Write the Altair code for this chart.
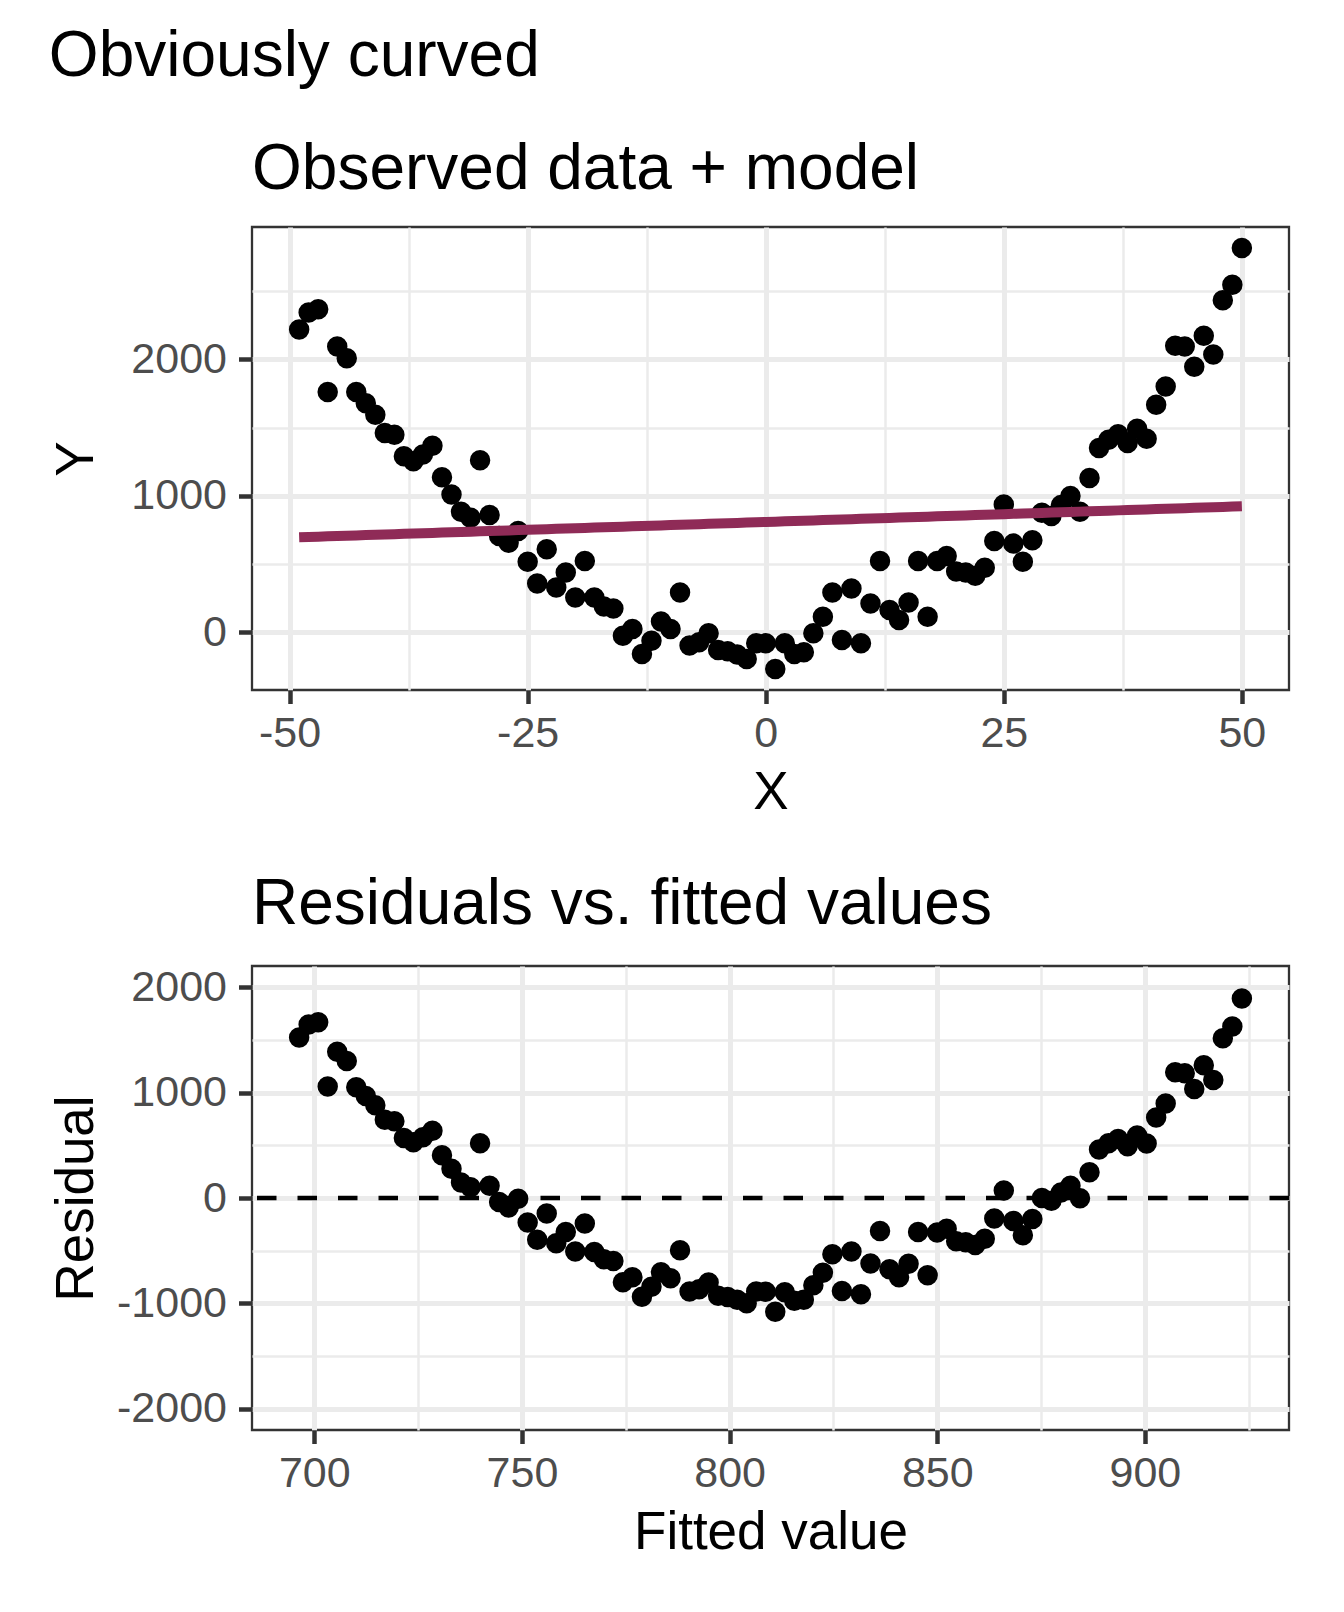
import altair as alt
import numpy as np
import pandas as pd

# ---- data ----
x_values = list(range(-49, 51))
y_values = [2219, 2343, 2367, 1761, 2093, 2007, 1761, 1679, 1594, 1460,
            1448, 1290, 1253, 1302, 1367, 1136, 1010, 883, 839, 1260,
            859, 706, 657, 742, 518, 358, 608, 328, 438, 255,
            523, 255, 190, 175, -24, 24, -158, -61, 80, 24,
            292, -97, -73, -7, -129, -139, -163, -195, -80, -80,
            -268, -80, -158, -146, -7, 114, 292, -56, 321, -80,
            212, 523, 163, 90, 219, 523, 114, 523, 560, 445,
            438, 414, 474, 669, 937, 650, 518, 674, 876, 852,
            932, 998, 883, 1131, 1350, 1411, 1452, 1387, 1491, 1418,
            1667, 1800, 2100, 2093, 1946, 2173, 2036, 2433, 2547, 2815]

# fitted straight line (fitted values span ~696..923)
model_intercept = 808.7
model_slope = 2.293

x_ticks_top = [-50, -37.5, -25, -12.5, 0, 12.5, 25, 37.5, 50]
y_ticks_top = [0, 500, 1000, 1500, 2000, 2500]
x_ticks_bot = [700, 725, 750, 775, 800, 825, 850, 875, 900, 925]
y_ticks_bot = [-2000, -1500, -1000, -500, 0, 500, 1000, 1500, 2000]

fitted = [model_intercept + model_slope * x for x in x_values]
resid = [y - f for y, f in zip(y_values, fitted)]

df = pd.DataFrame({"X": x_values, "Y": y_values, "Fitted": fitted, "Residual": resid})

FONT = "Liberation Sans"
W, H1, H2 = 1037, 463, 464
LINE_COL = "#8F2B57"


def expand(lo, hi, f=0.05):
    r = hi - lo
    return [lo - f * r, hi + f * r]


def major_minor_axis(values, test, title, orient, W_or_H):
    common = dict(
        values=values,
        labelExpr=f"({test}) ? '' + datum.value : ''",
        gridWidth={"condition": {"test": test, "value": 5}, "value": 2.5},
        tickOpacity={"condition": {"test": test, "value": 1}, "value": 0},
        labelOverlap=False,
        labelFlush=False,
        title=title,
        titleBaseline="alphabetic",
        titleAlign="center",
        labelFont=FONT, labelFontSize=43, labelColor="#4D4D4D",
        titleFont=FONT, titleFontSize=53, titleFontWeight="normal", titleColor="black",
        tickColor="#333333", tickWidth=4.5, tickSize=13.5,
        gridColor="#EBEBEB", domain=False,
    )
    if orient == "bottom":
        return alt.Axis(labelBaseline="alphabetic", labelAlign="center",
                        labelPadding=43, titleX=W_or_H / 2, titleY=118, **common)
    return alt.Axis(labelBaseline="middle", labelAlign="right", labelPadding=12,
                    titleX=-160, titleY=W_or_H / 2, titleAngle=270, **common)


def panel_title(text, offset):
    return alt.Title(text, anchor="start", frame="group", font=FONT,
                     fontWeight="normal", color="black",
                     fontSize=64, baseline="alphabetic", offset=offset)


# ---- top panel ----
sx1 = alt.Scale(domain=expand(min(x_values), max(x_values)), nice=False, zero=False)
sy1 = alt.Scale(domain=expand(min(y_values), max(y_values)), nice=False, zero=False)
ax1 = major_minor_axis(x_ticks_top, "datum.value % 25 === 0", "X", "bottom", W)
ay1 = major_minor_axis(y_ticks_top, "datum.value % 1000 === 0", "Y", "left", H1)

pts1 = alt.Chart(df).mark_circle(size=420, color="black", opacity=1).encode(
    x=alt.X("X:Q", scale=sx1, axis=ax1),
    y=alt.Y("Y:Q", scale=sy1, axis=ay1),
)
line1 = alt.Chart(df).mark_line(color=LINE_COL, strokeWidth=10).encode(
    x=alt.X("X:Q", scale=sx1, axis=ax1),
    y=alt.Y("Fitted:Q", scale=sy1, axis=ay1),
)
top = alt.layer(pts1, line1).properties(
    width=W, height=H1, title=panel_title("Observed data + model", -26),
)

# ---- bottom panel ----
sx2 = alt.Scale(domain=expand(min(fitted), max(fitted)), nice=False, zero=False)
sy2 = alt.Scale(domain=[-2200, 2200], nice=False, zero=False)
ax2 = major_minor_axis(x_ticks_bot, "datum.value % 50 === 0", "Fitted value", "bottom", W)
ay2 = major_minor_axis(y_ticks_bot, "datum.value % 1000 === 0", "Residual", "left", H2)

pts2 = alt.Chart(df).mark_circle(size=420, color="black", opacity=1).encode(
    x=alt.X("Fitted:Q", scale=sx2, axis=ax2),
    y=alt.Y("Residual:Q", scale=sy2, axis=ay2),
)
zero = alt.Chart(pd.DataFrame({"z": [0]})).mark_rule(
    color="black", strokeWidth=4.5, strokeDash=[19.5, 21]
).encode(y=alt.datum(0, scale=sy2))
bottom = alt.layer(pts2, zero).properties(
    width=W, height=H2, title=panel_title("Residuals vs. fitted values", -22),
)

chart = alt.vconcat(top, bottom, spacing=50).properties(
    title=alt.Title("Obviously curved", anchor="start", frame="bounds", font=FONT,
                    fontWeight="normal", color="black",
                    fontSize=64, baseline="alphabetic", offset=-3),
    padding={"left": 40, "top": 16, "right": 20, "bottom": 20},
    background="white",
).configure_view(
    stroke="#333333", strokeWidth=2.3,
)

chart.save("out.html", embed_options={"renderer": "svg", "actions": False})
